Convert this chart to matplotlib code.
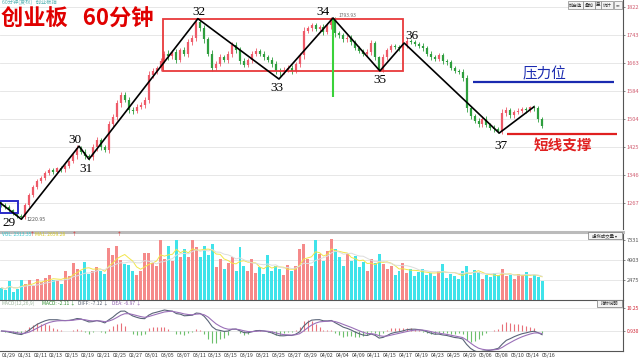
import matplotlib
matplotlib.use('Agg')
import matplotlib.pyplot as plt
import numpy as np
import pandas as pd
from matplotlib.patches import Rectangle

plt.rcParams['font.family'] = ['Noto Sans CJK SC', 'DejaVu Sans']

# ---- data (compressed to 4 bars per 2 trading days) ----
first_open = 1268
closes = [1262, 1255, 1246, 1238, 1230, 1228, 1262, 1290, 1312, 1330,
          1338, 1352, 1360, 1356, 1365, 1362, 1372, 1385, 1402, 1422,
          1412, 1400, 1396, 1425, 1445, 1425, 1418, 1490, 1510, 1550,
          1572, 1560, 1530, 1528, 1540, 1545, 1560, 1630, 1640, 1648,
          1670, 1690, 1682, 1695, 1672, 1700, 1690, 1722, 1735, 1780,
          1762, 1730, 1690, 1650, 1662, 1680, 1672, 1688, 1715, 1700,
          1670, 1658, 1672, 1690, 1698, 1690, 1680, 1672, 1660, 1640,
          1638, 1645, 1650, 1640, 1660, 1685, 1755, 1762, 1770, 1760,
          1765, 1752, 1770, 1785, 1748, 1742, 1730, 1735, 1722, 1705,
          1698, 1690, 1695, 1720, 1680, 1645, 1680, 1700, 1712, 1708,
          1705, 1715, 1725, 1722, 1718, 1712, 1705, 1690, 1680, 1675,
          1685, 1668, 1665, 1650, 1640, 1638, 1620, 1535, 1512, 1500,
          1490, 1505, 1488, 1480, 1476, 1472, 1522, 1530, 1515, 1525,
          1528, 1532, 1530, 1538, 1535, 1505, 1485]
wicks = [5, 5, 6, 5, 6, 7, 6, 6, 5, 6,
         6, 5, 6, 7, 5, 6, 6, 5, 6, 10,
         6, 7, 6, 8, 10, 7, 6, 8, 10, 9,
         10, 8, 7, 8, 6, 7, 8, 10, 8, 7,
         8, 7, 9, 6, 8, 7, 8, 9, 7, 10,
         8, 9, 8, 10, 7, 8, 6, 8, 9, 7,
         8, 7, 6, 8, 7, 6, 8, 7, 9, 8,
         10, 7, 8, 9, 6, 8, 9, 7, 8, 6,
         7, 8, 7, 9, 10, 7, 6, 8, 7, 6,
         7, 6, 8, 9, 7, 4, 8, 7, 6, 6,
         7, 6, 8, 6, 7, 6, 7, 6, 8, 6,
         7, 6, 8, 7, 6, 7, 8, 10, 8, 7,
         8, 9, 7, 6, 8, 6, 10, 8, 7, 6,
         7, 6, 8, 4, 7, 8, 6]
volumes = [1500, 1200, 2300, 1000, 1400, 2400, 2000, 2400, 1700, 2600,
           2200, 2700, 3000, 2500, 2400, 2000, 3500, 2900, 4500, 3800,
           3600, 4600, 3200, 3600, 4000, 3500, 3200, 6400, 5500, 6600,
           4900, 4400, 4300, 3600, 3000, 3500, 5800, 5800, 4500, 4200,
           7300, 5000, 6600, 4800, 7300, 5200, 6200, 5300, 7300, 6500,
           5200, 6600, 5500, 6800, 4000, 5000, 3800, 4500, 5200, 3600,
           6500, 4200, 3600, 5000, 3300, 4000, 3200, 5500, 3500, 4200,
           3800, 3000, 4300, 3500, 4200, 6200, 6800, 5000, 4200, 7300,
           5600, 4800, 6000, 7500, 6200, 5200, 4200, 5600, 4800, 5400,
           4000, 4600, 3500, 5000, 4500, 5600, 4400, 3800, 4200, 3000,
           3600, 4500, 3300, 3800, 2900, 3400, 3800, 3100, 3300, 2900,
           3600, 4400, 2700, 3200, 2900, 2600, 3600, 4200, 3000, 3700,
           3400, 2600, 3100, 2800, 3300, 3000, 3800, 2900, 3000, 2600,
           3200, 3100, 3400, 2700, 3000, 2800, 2300]
dates = ['01/29', '01/31', '02/11', '02/13', '02/15', '02/19', '02/21', '02/25',
         '02/27', '03/01', '03/05', '03/07', '03/11', '03/13', '03/15', '03/19',
         '03/21', '03/25', '03/27', '03/29', '04/02', '04/04', '04/09', '04/11',
         '04/15', '04/17', '04/19', '04/23', '04/25', '04/29', '05/06', '05/08',
         '05/10', '05/14', '05/16']
price_ticks = [1267, 1346, 1425, 1504, 1584, 1663, 1743, 1822]
vol_ticks = [2475, 4903, 7331]
macd_labels = ['10.25', '0.930']

# wave count turning points (bar index, price)
wave_x = [-0.4, 5, 19.5, 22, 49.4, 69.8, 83.4, 95.2, 101.3, 125.2, 133.9]
wave_y = [1268, 1221, 1428, 1391, 1789, 1618, 1791, 1641, 1720, 1465, 1539]
wave_names = ['', '29', '30', '31', '32', '33', '34', '35', '36', '37', '']
# label offsets in pixels (dx, dy up)
wave_off = [(0, 0), (-12, -4), (-4, 6), (-3, -10), (1, 7), (-2, -9),
            (-10, 6), (0, -9), (8, 7), (2, -13), (0, 0)]

box_bars = (40.6, 101.0)
box_prices = (1641, 1788)
resist_price, resist_bars = 1610, (118.6, 154.1)
support_price, support_bars = 1462, (127.2, 154.9)

# ---- derived series ----
n = len(closes)
x = np.arange(n)
c = np.array(closes, dtype=float)
o = np.array([first_open] + closes[:-1], dtype=float)
w = np.array(wicks, dtype=float)
hi = np.maximum(o, c) + w
lo = np.minimum(o, c) - w
up = c >= o

# each bar here stands for two hourly bars, so halve the MACD(12,26,9) spans
s = pd.Series(c)
diff = s.ewm(span=6, adjust=False).mean() - s.ewm(span=13, adjust=False).mean()
dea = diff.ewm(span=4.5, adjust=False).mean()
hist = 2 * (diff - dea)
vol = pd.Series(volumes, dtype=float)
ma5 = vol.rolling(5, min_periods=1).mean()
ma10 = vol.rolling(10, min_periods=1).mean()

# ---- layout ----
W, H = 640, 361
def box(x0, y0, x1, y1):
    return [x0 / W, 1 - y1 / H, (x1 - x0) / W, (y1 - y0) / H]

fig = plt.figure(figsize=(6.4, 3.61), dpi=100)
ax = fig.add_axes(box(0, 0, 623, 229))
axv = fig.add_axes(box(0, 232, 623, 300), sharex=ax)
axm = fig.add_axes(box(0, 300, 623, 351), sharex=ax)

for a in (ax, axv, axm):
    for sp in ('left', 'top', 'bottom'):
        a.spines[sp].set_visible(False)
    a.spines['right'].set_color('#555555')
    a.yaxis.tick_right()
    a.tick_params(axis='y', length=1.5, width=0.5, pad=1, labelsize=4.1, colors='#555555')
    a.tick_params(axis='x', length=0)
    a.grid(axis='y', color='#e3e3e3', lw=0.6)
    a.set_axisbelow(True)
axv.spines['top'].set_visible(True)
axv.spines['top'].set_color('#bbbbbb')
axv.spines['top'].set_linewidth(2.2)
axm.spines['top'].set_visible(True)
axm.spines['top'].set_color('#555555')
axm.spines['bottom'].set_visible(True)
axm.spines['bottom'].set_color('#555555')

ax.set_xlim(-0.377, 156.35)

# ---- price panel ----
ax.set_ylim(1193.4, 1841.8)
ax.set_yticks(price_ticks)
ax.set_yticklabels([str(t) for t in price_ticks])
for lab in ax.get_yticklabels():
    lab.set_color('#d05a6e')
ax.tick_params(axis='x', labelbottom=False)

col = np.where(up, '#ee5a68', '#2e9e3e')
ax.vlines(x, lo, hi, colors=col, lw=0.6)
body_lo = np.minimum(o, c)
body_hi = np.maximum(np.maximum(o, c), body_lo + 2)
ax.vlines(x, body_lo, body_hi, colors=col, lw=1.6)

ax.plot(wave_x, wave_y, color='black', lw=1.2, zorder=5)
for wx, wy, name, (dx, dy) in zip(wave_x, wave_y, wave_names, wave_off):
    if name:
        ax.annotate(name, (wx, wy), xytext=(dx * 0.72, dy * 0.72), textcoords='offset points',
                    ha='center', va='center', fontsize=9.5, family='Liberation Serif', zorder=6)

ax.add_patch(Rectangle((box_bars[0], box_prices[0]), box_bars[1] - box_bars[0],
                       box_prices[1] - box_prices[0], fill=False, ec='#e8393c', lw=1.3, zorder=4))
ax.add_patch(Rectangle((-0.4, 1238.6), 4.55, 34, fill=False, ec='#2a2ac8', lw=1.4, zorder=4))
ax.vlines(wave_x[6], 1567, wave_y[6], colors='#3ad23a', lw=1.5, zorder=4)
ax.hlines(resist_price, *resist_bars, colors='#1a2ab0', lw=1.6, zorder=4)
ax.hlines(support_price, *support_bars, colors='#e02020', lw=1.6, zorder=4)
ax.text(136.5, 1632, '压力位', color='#1a2ab0', fontsize=10.5, ha='center', va='center')
ax.text(141.3, 1431, '短线支撑', color='#e02020', fontsize=10.5, ha='center', va='center', weight='bold')
ax.annotate('1793.93', (83.4, 1793.9), xytext=(4, 1), textcoords='offset points',
            fontsize=3.5, color='#666666', va='center')
ax.annotate('1220.95', (5, 1221), xytext=(4, 0), textcoords='offset points',
            fontsize=3.8, color='#555555', va='center')

fig.text(2 / W, 1 - 3.5 / H, '60分钟(复权)   创业板指', fontsize=3.8, color='#5ab4b4', va='center')
fig.text(1 / W, 1 - 19.5 / H, '创业板   60分钟', fontsize=16, color='#e00000', weight='bold', va='center')

# top-right buttons
for bx0, bx1, t in [(568, 583, '加自选'), (583, 595, '叠加'), (595, 601, '显'),
                    (601, 613, '统计'), (614, 622, '⇹')]:
    fig.patches.append(Rectangle((bx0 / W, 1 - 9 / H), (bx1 - bx0) / W, 8 / H, fill=True,
                                 fc='#f4f4f4', ec='#888888', lw=0.5, transform=fig.transFigure))
    fig.text((bx0 + bx1) / 2 / W, 1 - 5 / H, t, fontsize=3.2, ha='center', va='center', color='#333333')

# ---- volume panel ----
vcol = np.where(up, '#f58a8a', '#3fe3ea')
axv.bar(x, volumes, width=0.75, color=vcol, lw=0)
axv.plot(x, ma5, color='#f2e64a', lw=0.7)
axv.plot(x, ma10, color='#dddddd', lw=0.7)
axv.set_ylim(0, 8310)
axv.set_yticks(vol_ticks)
axv.set_yticklabels([str(t) for t in vol_ticks])
axv.tick_params(axis='x', labelbottom=False)
fig.text(2 / W, 1 - 235 / H, 'VOL: 2313.35', fontsize=3.5, color='#33c8d0', va='center')
fig.text(30 / W, 1 - 235 / H, '↑', fontsize=3.5, color='#e02020', va='center')
fig.text(35 / W, 1 - 235 / H, 'MA1: 2659.28', fontsize=3.5, color='#d8c820', va='center')
fig.text(72 / W, 1 - 235 / H, '↑', fontsize=3.5, color='#e02020', va='center')
fig.text(117 / W, 1 - 235 / H, '↑', fontsize=3.5, color='#e02020', va='center')
fig.patches.append(Rectangle((588 / W, 1 - 239 / H), 34 / W, 7 / H, fc='#f4f4f4', ec='#777777',
                             lw=0.5, transform=fig.transFigure))
fig.text(605 / W, 1 - 235.5 / H, '虚拟成交量 ▾', fontsize=3.2, ha='center', va='center', color='#333333')

# ---- MACD panel ----
hcol = np.where(hist >= 0, '#e8707a', '#6cc06c')
axm.vlines(x, 0, hist, colors=hcol, lw=0.8)
axm.plot(x, diff, color='#5a6478', lw=0.8)
axm.plot(x, dea, color='#9a70b8', lw=0.8)
m = float(diff.max())
k = m / 21.0
axm.set_ylim(-20 * k, 31 * k)
axm.set_yticks([23 * k, 0])
axm.set_yticklabels(macd_labels)
for lab in axm.get_yticklabels():
    lab.set_color('#d02030')
    lab.set_fontsize(3.6)
axm.set_xticks(np.arange(len(dates)) * 4)
axm.set_xticklabels(dates, fontsize=3.8, ha='left', color='#333333')
axm.tick_params(axis='x', pad=1.5)
fig.text(2 / W, 1 - 303 / H, 'MACD(12,26,9)', fontsize=3.5, color='#9ab49a', va='center')
fig.text(42 / W, 1 - 303 / H, 'MACD: -2.11 ↓', fontsize=3.5, color='#2e8e2e', va='center')
fig.text(78 / W, 1 - 303 / H, 'DIFF: -7.12 ↓', fontsize=3.5, color='#556070', va='center')
fig.text(112 / W, 1 - 303 / H, 'DEA: -6.97 ↓', fontsize=3.5, color='#8a5aa8', va='center')
fig.patches.append(Rectangle((597 / W, 1 - 307 / H), 25 / W, 7 / H, fc='#f4f4f4', ec='#777777',
                             lw=0.5, transform=fig.transFigure))
fig.text(609.5 / W, 1 - 303.5 / H, '指标说明', fontsize=3.2, ha='center', va='center', color='#333333')

fig.savefig('out.png', dpi=100)
